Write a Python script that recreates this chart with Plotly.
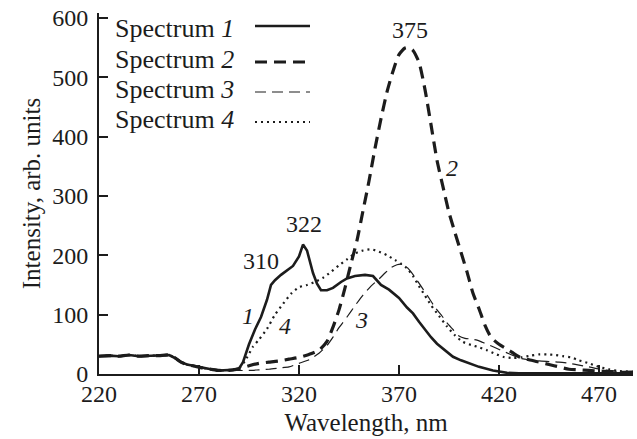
import plotly.graph_objects as go

# ---------------- data ----------------
x_low = [220, 225, 230, 235, 240, 245, 250, 255, 258, 261, 264, 268, 272, 276, 280, 284, 287]
y_low = [30, 31, 30, 32, 30, 31, 31, 32, 27, 20, 16, 13, 10, 8, 6, 6, 7]

x1 = x_low + [290, 292, 295, 298, 301, 304, 306, 308, 311, 314, 317, 320, 322, 324, 327, 329,
              331, 334, 337, 341, 344, 348, 353, 357, 361, 365, 370, 374, 377, 380, 383, 386,
              389, 393, 397, 401, 405, 410, 417, 424, 430, 440, 450, 460, 470, 480, 487]
y1 = y_low + [9, 20, 50, 75, 96, 125, 150, 158, 167, 174, 182, 198, 218, 208, 170, 152,
              141, 141, 145, 155, 161, 165, 167, 165, 150, 142, 128, 112, 102, 88, 74, 62,
              51, 40, 29, 23, 18, 12, 6, 2, 1, 1, 1, 1, 1, 1, 1]

x2 = x_low + [290, 295, 300, 305, 310, 315, 320, 325, 330, 334, 337, 340, 343, 346, 349, 352,
              355, 358, 361, 364, 367, 370, 373, 375, 377, 380, 383, 386, 389, 392, 395, 398,
              401, 404, 407, 410, 413, 416, 420, 425, 430, 435, 440, 445, 450, 455, 460, 465,
              470, 475, 480, 487]
y2 = y_low + [9, 14, 18, 20, 22, 25, 28, 33, 40, 55, 79, 108, 145, 186, 225, 275,
              325, 380, 430, 475, 510, 538, 549, 550, 545, 525, 479, 420, 360, 315, 272, 238,
              205, 172, 136, 110, 82, 62, 50, 40, 29, 24, 20, 16, 12, 8, 7, 6,
              5, 4, 3, 3]

x3 = x_low + [290, 295, 300, 305, 310, 315, 320, 325, 330, 334, 337, 340, 344, 348, 352, 356,
              360, 363, 366, 369, 371, 373, 376, 379, 382, 385, 388, 391, 394, 397, 400, 403,
              406, 409, 412, 415, 419, 425, 430, 435, 440, 445, 450, 455, 460, 465, 469, 475,
              480, 487]
y3 = y_low + [6, 6, 7, 8, 10, 12, 18, 24, 35, 48, 62, 78, 96, 115, 133, 148,
              160, 170, 179, 184, 185, 183, 172, 158, 143, 128, 112, 100, 86, 75, 64, 60,
              59, 57, 53, 49, 43, 34, 27, 24, 22, 21, 20, 18, 15, 12, 9, 6,
              4, 3]

x4 = x_low + [290, 293, 297, 300, 304, 308, 312, 316, 320, 324, 328, 332, 336, 340, 344, 348,
              352, 356, 360, 364, 368, 371, 374, 377, 380, 383, 386, 390, 394, 398, 402, 406,
              410, 414, 418, 422, 427, 431, 436, 440, 444, 448, 452, 456, 460, 465, 470, 475,
              480, 487]
y4 = y_low + [10, 22, 46, 58, 76, 100, 118, 135, 146, 150, 155, 162, 172, 183, 193, 203,
              208, 210, 206, 200, 192, 186, 178, 165, 148, 132, 116, 98, 80, 65, 54, 49,
              45, 40, 34, 29, 27, 28, 31, 33, 33, 32, 30, 28, 23, 18, 12, 8,
              5, 4]

series_names = ["Spectrum <i>1</i>", "Spectrum <i>2</i>", "Spectrum <i>3</i>", "Spectrum <i>4</i>"]
x_ticks = [220, 270, 320, 370, 420, 470]
y_ticks = [0, 100, 200, 300, 400, 500, 600]

# peak labels: (wavelength, intensity, text)
peak_labels = [(375.5, 580, "375"), (322.5, 252, "322"), (301, 190, "310")]
curve_labels = [(294.5, 97, "<i>1</i>"), (396.5, 347, "<i>2</i>"), (351, 91, "<i>3</i>"), (313, 81, "<i>4</i>")]

# ---------------- styling ----------------
INK = "#1c1c1c"
FONT = "Liberation Serif, Times New Roman, DejaVu Serif, serif"
styles = [
    dict(color=INK, width=2.6, dash="solid"),
    dict(color=INK, width=3.2, dash="12px,7px"),
    dict(color=INK, width=1.2, dash="11px,6px"),
    dict(color=INK, width=2.2, dash="2px,4px"),
]
shapes_kind = ["linear", "spline", "spline", "spline"]

fig = go.Figure()
for xs, ys, st, name, sh in zip([x1, x2, x3, x4], [y1, y2, y3, y4], styles, series_names, shapes_kind):
    line = dict(st)
    if sh == "spline":
        line["shape"] = "spline"
        line["smoothing"] = 0.6
    fig.add_trace(go.Scatter(x=xs, y=ys, mode="lines", name=name, line=line, showlegend=False))

annotations = []
for xv, yv, t in peak_labels + curve_labels:
    annotations.append(dict(x=xv, y=yv, text=t, showarrow=False, xref="x", yref="y",
                            font=dict(family=FONT, size=24, color=INK)))

FIG_W, FIG_H = 637, 439
plot_l, plot_r, plot_t, plot_b = 99, 633, 13, 374

def px(xpix):  # pixel -> paper fraction
    return (xpix - plot_l) / (plot_r - plot_l)
def py(ypix):
    return (plot_b - ypix) / (plot_b - plot_t)

# hand-built legend (text left, line sample right, as in the reference)
legend_rows_text = [28, 59, 89, 120]
legend_rows_line = [26, 62, 92, 122]
shapes = []
for name, st, yt, yl in zip(series_names, styles, legend_rows_text, legend_rows_line):
    annotations.append(dict(x=px(113), y=py(yt), xref="paper", yref="paper", text=name,
                            showarrow=False, xanchor="left", yanchor="middle",
                            font=dict(family=FONT, size=26, color=INK)))
    shapes.append(dict(type="line", xref="paper", yref="paper", x0=px(255), x1=px(310),
                       y0=py(yl), y1=py(yl), line=dict(color=INK, width=st["width"], dash=st["dash"])))

axis_common = dict(showline=True, linecolor=INK, linewidth=2, ticks="inside", ticklen=9,
                   tickwidth=1.5, tickcolor=INK, showgrid=False, zeroline=False, mirror=False,
                   automargin=False, ticklabeloverflow="allow",
                   tickfont=dict(family=FONT, size=24, color=INK))

fig.update_layout(
    width=FIG_W, height=FIG_H,
    margin=dict(l=plot_l, r=FIG_W - plot_r, t=plot_t, b=FIG_H - plot_b),
    paper_bgcolor="white", plot_bgcolor="white",
    showlegend=False,
    xaxis=dict(range=[220, 487], tickvals=x_ticks, ticktext=[str(v) for v in x_ticks],
               ticklabelstandoff=-3,
               title=dict(text="Wavelength, nm", font=dict(family=FONT, size=25, color=INK), standoff=8),
               **axis_common),
    yaxis=dict(range=[0, 608], tickvals=y_ticks, ticktext=[str(v) for v in y_ticks],
               ticklabelstandoff=4,
               title=dict(text="Intensity, arb. units", font=dict(family=FONT, size=25, color=INK), standoff=4),
               **axis_common),
    annotations=annotations,
    shapes=shapes,
)

# remove the browser's default 8px body margin so the figure sits at the page origin
fig.write_html("out.html", config={"displayModeBar": False},
               post_script="document.body.style.margin='0';")
